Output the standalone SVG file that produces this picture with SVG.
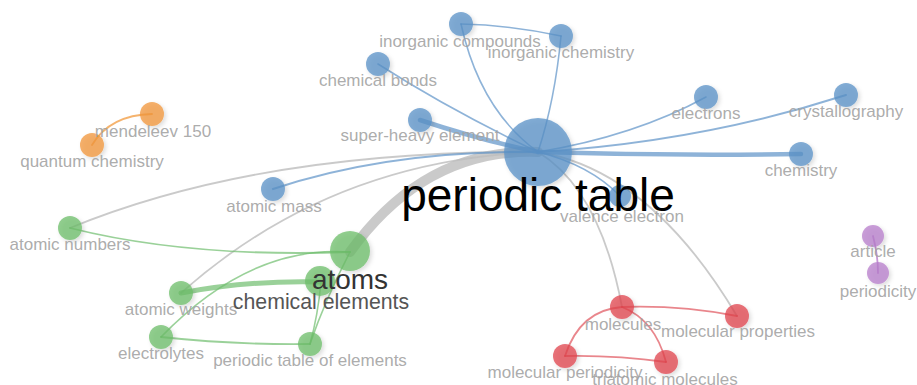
<svg xmlns="http://www.w3.org/2000/svg" width="917" height="385" viewBox="0 0 917 385">
  <defs>
    <filter id="shadow" x="-50%" y="-50%" width="200%" height="200%">
      <feDropShadow dx="2" dy="2" stdDeviation="2" flood-color="#000" flood-opacity="0.18"/>
    </filter>
    <style>
      .e { fill: none; stroke-linecap: round; }
      .eb { stroke: #5e93c7; stroke-opacity: 0.7; }
      .eg { stroke: #bdbdbd; stroke-opacity: 0.8; }
      .egr { stroke: #6fbd6d; stroke-opacity: 0.7; }
      .er { stroke: #e0525b; stroke-opacity: 0.7; }
      .eo { stroke: #f19a3e; stroke-opacity: 0.75; }
      .ep { stroke: #b373c8; stroke-opacity: 0.75; }
      .n { fill-opacity: 0.75; filter: url(#shadow); }
      .blue { fill: #5a91c7; }
      .green { fill: #6cbd6a; }
      .orange { fill: #f29638; }
      .red { fill: #e0434d; }
      .purple { fill: #b77ccb; }
      text { font-family: "Liberation Sans", Arial, sans-serif; text-anchor: middle; }
      .lbl { font-size: 17px; fill: #a2a2a2; fill-opacity: 0.9; }
      .big { font-size: 46px; fill: #000; }
      .mid { font-size: 28px; fill: #333; }
      .sub { font-size: 21.3px; fill: #555; }
    </style>
  </defs>

  <!-- connectors -->
  <g id="edges">
    <!-- periodic table cluster -->
    <path class="e eg" stroke-width="10" d="M350,252 Q425,148 538,152"/>
    <path class="e eg" stroke-width="1.8" d="M70,228 Q260,150 538,152"/>
    <path class="e eg" stroke-width="1.8" d="M181,293 Q330,160 538,152"/>
    <path class="e eg" stroke-width="1.8" d="M538,152 Q600,190 622,307"/>
    <path class="e eg" stroke-width="1.8" d="M538,152 Q650,170 737,316"/>

    <path class="e eb" stroke-width="1.6" d="M461,24 Q480,110 538,152"/>
    <path class="e eb" stroke-width="1.6" d="M561,36 Q555,100 538,152"/>
    <path class="e eb" stroke-width="1.6" d="M461,24 Q510,25 561,36"/>
    <path class="e eb" stroke-width="1.6" d="M378,64 Q450,110 538,152"/>
    <path class="e eb" stroke-width="4.5" d="M420,120 Q480,140 538,152"/>
    <path class="e eb" stroke-width="2.2" d="M273,189 Q390,150 538,152"/>
    <path class="e eb" stroke-width="1.6" d="M706,97 Q635,136 538,152"/>
    <path class="e eb" stroke-width="2" d="M846,95 Q700,142 538,152"/>
    <path class="e eb" stroke-width="4.5" d="M801,154 Q670,156 538,152"/>
    <path class="e eb" stroke-width="1.6" d="M538,152 Q590,165 620,196"/>

    <!-- green cluster -->
    <path class="e egr" stroke-width="1.8" d="M70,228 Q190,258 350,252"/>
    <path class="e egr" stroke-width="5" d="M181,293 Q250,280 321,282"/>
    <path class="e egr" stroke-width="1.6" d="M161,337 Q250,245 350,252"/>
    <path class="e egr" stroke-width="1.8" d="M161,337 Q235,345 310,344"/>
    <path class="e egr" stroke-width="1.6" d="M310,344 Q318,315 321,282"/>
    <path class="e egr" stroke-width="1.6" d="M310,344 Q325,300 350,252"/>

    <!-- red cluster -->
    <path class="e er" stroke-width="1.8" d="M622,307 Q680,305 737,316"/>
    <path class="e er" stroke-width="1.8" d="M622,307 Q580,310 565,356"/>
    <path class="e er" stroke-width="1.8" d="M622,307 Q655,320 666,362"/>
    <path class="e er" stroke-width="1.8" d="M565,356 Q615,355 666,362"/>

    <!-- orange and purple pairs -->
    <path class="e eo" stroke-width="1.8" d="M152,114 Q110,115 92,145"/>
    <path class="e ep" stroke-width="1.8" d="M873,236 Q878,255 878,273"/>
  </g>

  <!-- nodes -->
  <g id="n-periodic-table"><circle class="n blue" cx="538" cy="152" r="34"/></g>
  <g id="n-inorganic-compounds"><circle class="n blue" cx="461" cy="24" r="12"/></g>
  <g id="n-inorganic-chemistry"><circle class="n blue" cx="561" cy="36" r="12"/></g>
  <g id="n-chemical-bonds"><circle class="n blue" cx="378" cy="64" r="12"/></g>
  <g id="n-super-heavy-element"><circle class="n blue" cx="420" cy="120" r="12"/></g>
  <g id="n-electrons"><circle class="n blue" cx="706" cy="97" r="12"/></g>
  <g id="n-crystallography"><circle class="n blue" cx="846" cy="95" r="12"/></g>
  <g id="n-chemistry"><circle class="n blue" cx="801" cy="154" r="12"/></g>
  <g id="n-atomic-mass"><circle class="n blue" cx="273" cy="189" r="12"/></g>
  <g id="n-valence-electron"><circle class="n blue" cx="620" cy="196" r="11"/></g>

  <g id="n-mendeleev-150"><circle class="n orange" cx="152" cy="114" r="12"/></g>
  <g id="n-quantum-chemistry"><circle class="n orange" cx="92" cy="145" r="12"/></g>

  <g id="n-atomic-numbers"><circle class="n green" cx="70" cy="228" r="12"/></g>
  <g id="n-atoms"><circle class="n green" cx="350" cy="251" r="20"/></g>
  <g id="n-chemical-elements"><circle class="n green" cx="320" cy="281" r="15"/></g>
  <g id="n-atomic-weights"><circle class="n green" cx="181" cy="293" r="12"/></g>
  <g id="n-electrolytes"><circle class="n green" cx="161" cy="337" r="12"/></g>
  <g id="n-periodic-table-of-elements"><circle class="n green" cx="310" cy="344" r="12"/></g>

  <g id="n-molecules"><circle class="n red" cx="622" cy="307" r="12"/></g>
  <g id="n-molecular-properties"><circle class="n red" cx="737" cy="316" r="12"/></g>
  <g id="n-molecular-periodicity"><circle class="n red" cx="565" cy="356" r="12"/></g>
  <g id="n-triatomic-molecules"><circle class="n red" cx="666" cy="362" r="12"/></g>

  <g id="n-article"><circle class="n purple" cx="873" cy="236" r="11"/></g>
  <g id="n-periodicity"><circle class="n purple" cx="878" cy="273" r="11"/></g>

  <!-- labels -->
  <g id="labels">
    <text class="lbl" x="460" y="47">inorganic compounds</text>
    <text class="lbl" x="561" y="58">inorganic chemistry</text>
    <text class="lbl" x="378" y="86">chemical bonds</text>
    <text class="lbl" x="420" y="141">super-heavy element</text>
    <text class="lbl" x="706" y="119">electrons</text>
    <text class="lbl" x="846" y="117">crystallography</text>
    <text class="lbl" x="801" y="176">chemistry</text>
    <text class="lbl" x="274" y="212">atomic mass</text>
    <text class="lbl" x="622" y="222">valence electron</text>
    <text class="lbl" x="153" y="137">mendeleev 150</text>
    <text class="lbl" x="92" y="167">quantum chemistry</text>
    <text class="lbl" x="70" y="250">atomic numbers</text>
    <text class="lbl" x="181" y="315">atomic weights</text>
    <text class="lbl" x="161" y="359">electrolytes</text>
    <text class="lbl" x="310" y="366">periodic table of elements</text>
    <text class="lbl" x="623" y="330">molecules</text>
    <text class="lbl" x="738" y="337">molecular properties</text>
    <text class="lbl" x="565" y="378">molecular periodicity</text>
    <text class="lbl" x="665" y="385">triatomic molecules</text>
    <text class="lbl" x="873" y="257">article</text>
    <text class="lbl" x="878" y="297">periodicity</text>
    <text class="sub" x="321" y="309">chemical elements</text>
    <text class="mid" x="350" y="289">atoms</text>
    <text class="big" x="538" y="211">periodic table</text>
  </g>
</svg>
